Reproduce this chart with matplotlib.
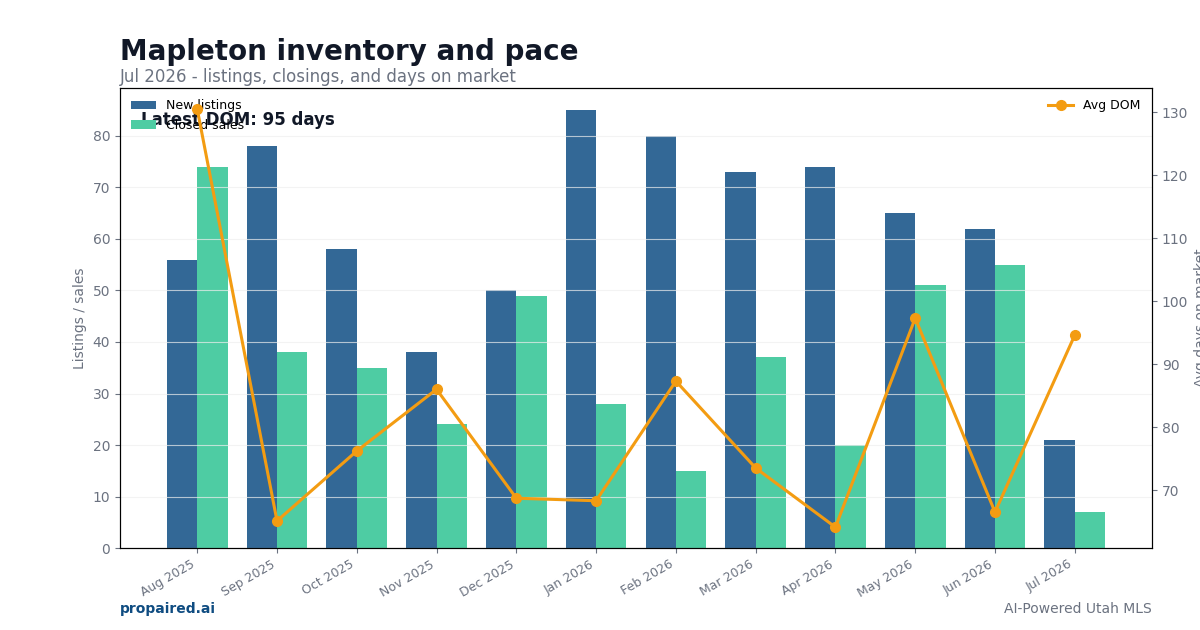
import numpy as np
import matplotlib.pyplot as plt

# dados do grafico
meses = ["Aug 2025", "Sep 2025", "Oct 2025", "Nov 2025", "Dec 2025", "Jan 2026",
         "Feb 2026", "Mar 2026", "Apr 2026", "May 2026", "Jun 2026", "Jul 2026"]
novos = [56, 78, 58, 38, 50, 85, 80, 73, 74, 65, 62, 21]
vendidos = [74, 38, 35, 24, 49, 28, 15, 37, 20, 51, 55, 7]
dom = [130.5, 65.1, 76.2, 86.0, 68.7, 68.3, 87.3, 73.5, 64.1, 97.3, 66.5, 94.6]

cinza = "#6b7280"
x = np.arange(len(meses))
w = 0.38

fig = plt.figure(figsize=(12, 6.3), dpi=100)
ax = fig.add_axes([0.1, 0.13, 0.86, 0.73])

ax.bar(x - w / 2, novos, w, color="#336896", label="New listings")
ax.bar(x + w / 2, vendidos, w, color="#4ecca3", label="Closed sales")
ax.set_ylabel("Listings / sales", color=cinza, fontsize=10)
ax.grid(axis="y", color="#eeeeee", alpha=0.7)
ax.set_xticks(x)
ax.set_xticklabels(meses, rotation=30, ha="right")
ax.tick_params(colors=cinza, labelsize=9)
ax.tick_params(axis="y", labelsize=10)
ax.legend(loc="upper left", frameon=False, fontsize=9)

ax2 = ax.twinx()
ax2.plot(x, dom, color="#f39c12", marker="o", linewidth=2.2, markersize=7, label="Avg DOM")
ax2.set_ylabel("Avg days on market", color=cinza, fontsize=10)
ax2.tick_params(colors=cinza, labelsize=10)
ax2.legend(loc="upper right", frameon=False, fontsize=9)

ax.text(0.02, 0.95, "Latest DOM: %d days" % round(dom[-1]), transform=ax.transAxes,
        fontsize=12, fontweight="bold", color="#111827", va="top")

fig.text(0.1, 0.917, "Mapleton inventory and pace", fontsize=20, fontweight="bold",
         color="#111827", va="center")
fig.text(0.1, 0.877, "Jul 2026 - listings, closings, and days on market", fontsize=12,
         color=cinza, va="center")
fig.text(0.1, 0.033, "propaired.ai", fontsize=10, fontweight="bold", color="#0f4c81", va="center")
fig.text(0.96, 0.033, "AI-Powered Utah MLS", fontsize=10, color=cinza, va="center", ha="right")

fig.savefig("out.png")
